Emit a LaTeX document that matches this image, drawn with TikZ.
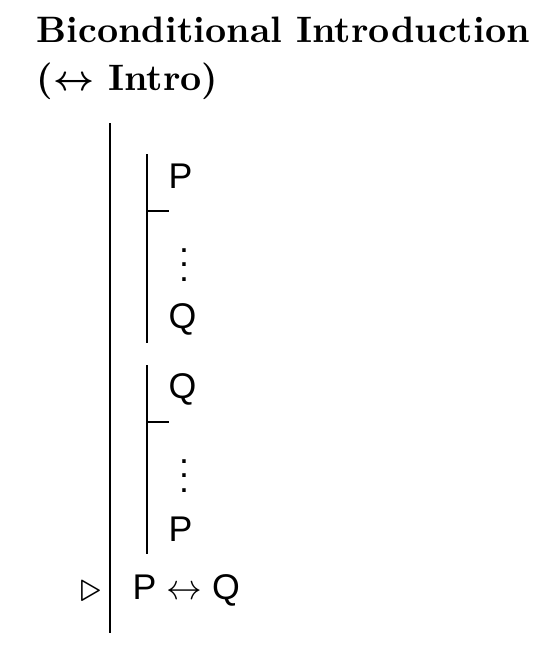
\documentclass[tikz,border=0pt]{standalone}
\usepackage{fontspec}
\setsansfont{Liberation Sans}

\tikzset{
  heading/.style={anchor=base west, inner sep=0pt,
    font=\rmfamily\bfseries\boldmath\fontsize{10.3}{13}\selectfont},
  proofline/.style={anchor=base west, inner sep=0pt},
  scopebar/.style={line width=0.4pt},
}

\begin{document}
\begin{tikzpicture}[x=0.28pt, y=-0.28pt, font=\sffamily\fontsize{10}{12}\selectfont]
\useasboundingbox (0,0) rectangle (552,661);

% ============================================================ the heading
\node[heading] (titleA) at (36,42) {Biconditional Introduction};
\node[heading] (titleB) at (36,90) {($\leftrightarrow$ Intro)};

% ========================================================= main scope bar
\coordinate (mainTop) at (110,123);
\coordinate (mainBot) at (110,633);
\draw[scopebar] (mainTop) -- (mainBot);

% ============================================= first subproof: P ... Q
\coordinate (subATop) at (147,154);
\coordinate (subABot) at (147,343);
\coordinate (subAHyp) at (147,211);
\coordinate (subAEnd) at (169,211);
\draw[scopebar] (subATop) -- (subABot);
\draw[scopebar] (subAHyp) -- (subAEnd);
\node[proofline] (hypA) at (168,188) {P};
\node[anchor=base, inner sep=0pt] (dotsA) at (184,281) {$\vdots$};
\node[proofline] (endA) at (168,328) {Q};

% ============================================ second subproof: Q ... P
\coordinate (subBTop) at (147,365);
\coordinate (subBBot) at (147,554);
\coordinate (subBHyp) at (147,422);
\coordinate (subBEnd) at (169,422);
\draw[scopebar] (subBTop) -- (subBBot);
\draw[scopebar] (subBHyp) -- (subBEnd);
\node[proofline] (hypB) at (168,398) {Q};
\node[anchor=base, inner sep=0pt] (dotsB) at (184,492) {$\vdots$};
\node[proofline] (endB) at (168,541) {P};

% ============================================================ conclusion
% The marker is a touch larger than the text size, as in the original.
\node[anchor=base, inner sep=0pt, font=\fontsize{13}{15}\selectfont]
  (mark) at (90.5,601.5) {$\triangleright$};
\node[proofline] (concl) at (132,599) {$\textsf{P}\leftrightarrow\textsf{Q}$};

\end{tikzpicture}
\end{document}
